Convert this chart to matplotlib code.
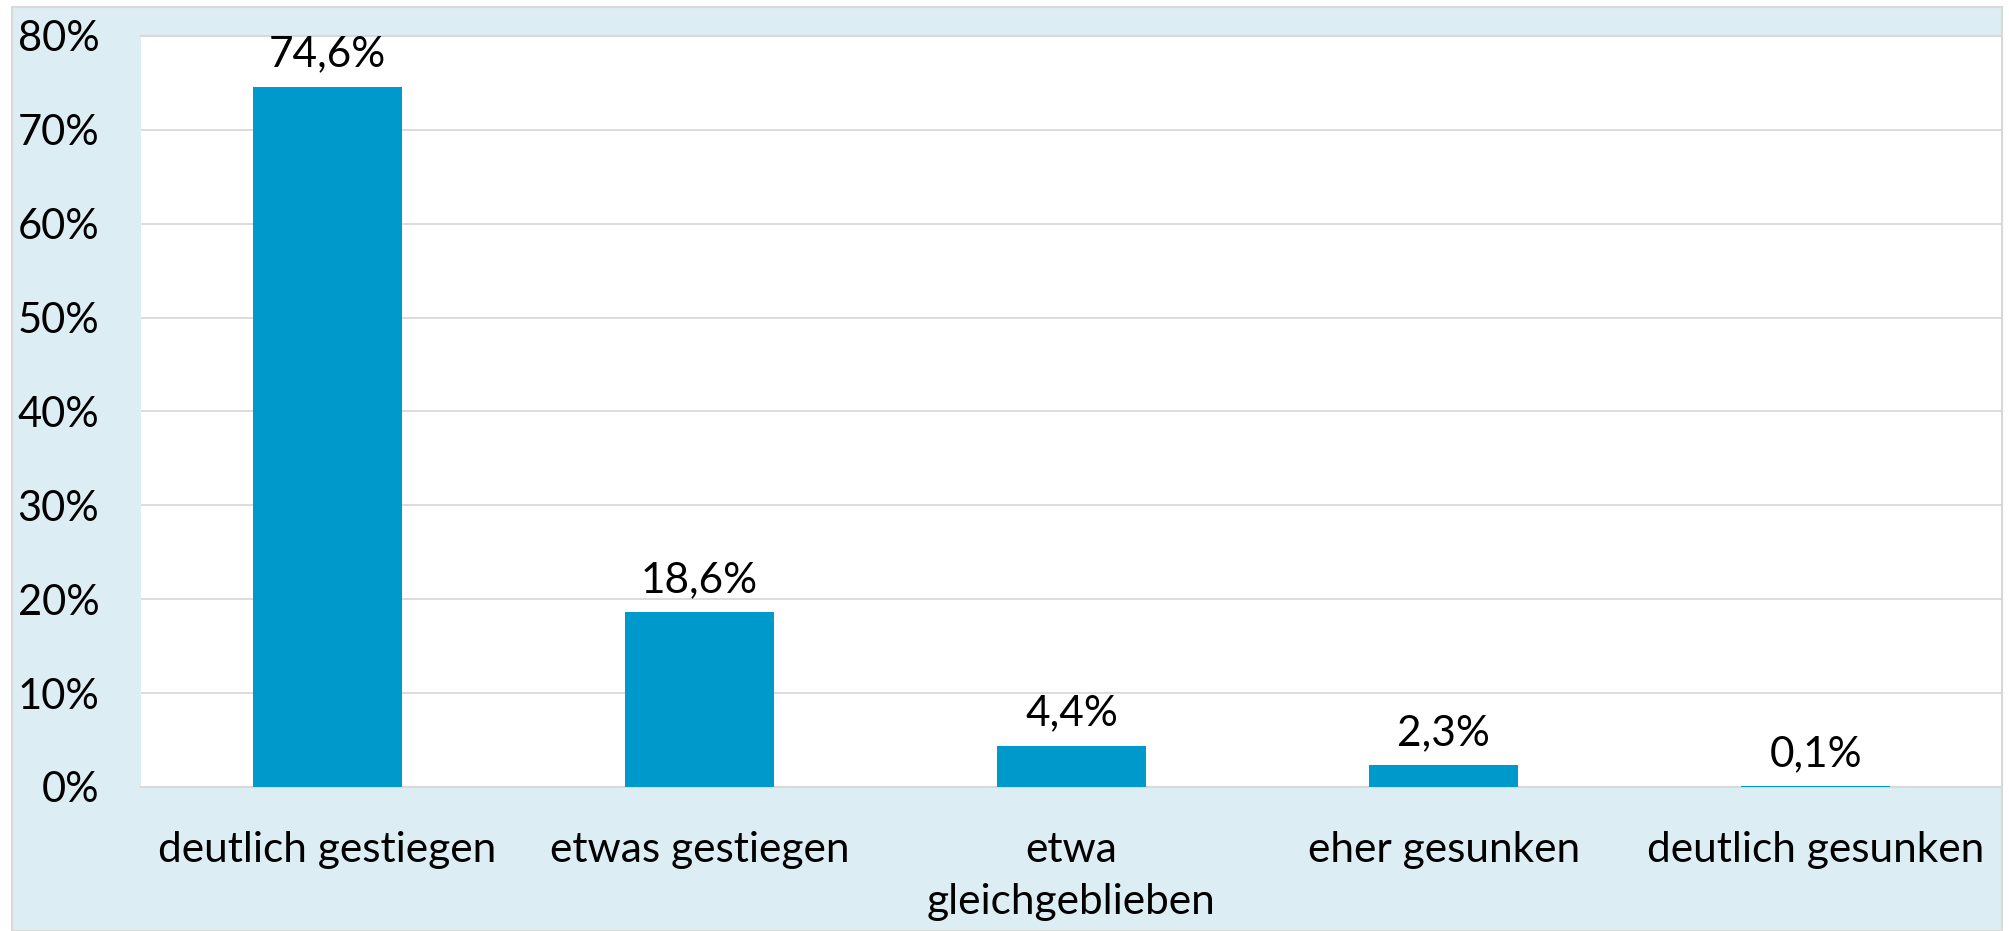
import matplotlib
matplotlib.use("Agg")
import matplotlib.pyplot as plt
from matplotlib.patches import Rectangle
from matplotlib.ticker import MultipleLocator, FuncFormatter

categories = ["deutlich gestiegen", "etwas gestiegen", "etwa\ngleichgeblieben", "eher gesunken", "deutlich gesunken"]
values = [74.6, 18.6, 4.4, 2.3, 0.1]
labels = ["74,6%", "18,6%", "4,4%", "2,3%", "0,1%"]

plt.rcParams['font.family'] = ['Lato', 'DejaVu Sans']
W, H = 2009, 931
fig = plt.figure(figsize=(W/100, H/100), dpi=100)
fig.patch.set_facecolor("white")

bg = Rectangle((12/W, 0), (2002-12)/W, (931-7)/H, transform=fig.transFigure,
               facecolor="#DCEDF3", edgecolor="#D9D9D9", linewidth=1.5, zorder=-10)
fig.patches.append(bg)

ax = fig.add_axes([141/W, 1-787/H, (2002-141)/W, (787-36)/H])
ax.set_zorder(5)
ax.set_facecolor("white")
x = range(len(categories))
ax.bar(x, values, width=0.4, color="#0099CC", zorder=3)
for xi, v, lab in zip(x, values, labels):
    ax.annotate(lab, (xi, v), xytext=(0, 9.5), textcoords="offset points",
                ha="center", va="bottom", fontsize=30.5, color="black")

ax.set_xlim(-0.5, len(categories)-0.5)
ax.set_ylim(0, 80)
ax.yaxis.set_major_locator(MultipleLocator(10))
ax.yaxis.set_major_formatter(FuncFormatter(lambda v, p: f"{int(v)}%"))
ax.set_xticks(list(x))
ax.set_xticklabels(categories, fontsize=30.5, linespacing=1.43)
ax.tick_params(axis='y', length=0, pad=30, labelsize=30)
ax.tick_params(axis='x', length=0, pad=32)
ax.grid(axis='y', color="#D9D9D9", linewidth=1.3, zorder=0)
ax.set_axisbelow(True)
for s in ["left"]:
    ax.spines[s].set_visible(False)
for s in ["top", "right", "bottom"]:
    ax.spines[s].set_color("#D9D9D9")
    ax.spines[s].set_linewidth(1.5)

fig.savefig("out.png", dpi=100, facecolor=fig.get_facecolor())
